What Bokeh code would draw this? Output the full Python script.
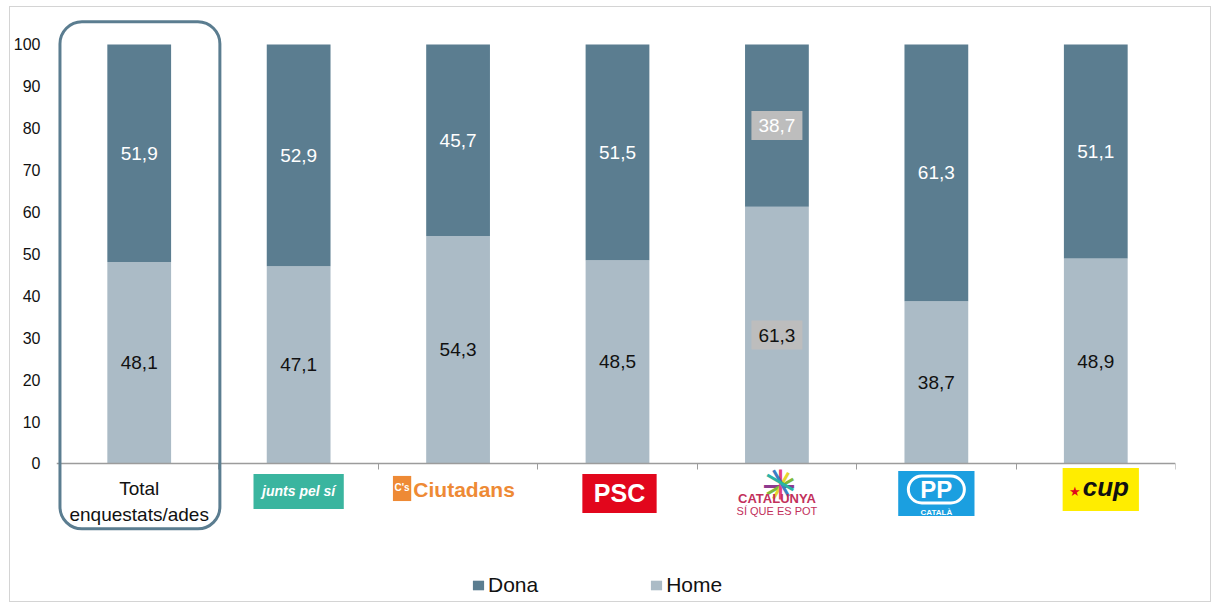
from bokeh.plotting import figure
from bokeh.models import (FixedTicker, BoxAnnotation, Label, Legend, LegendItem,
                          ColumnDataSource, Range1d)
from bokeh.embed import file_html
from bokeh.resources import INLINE
from bokeh.core.properties import value

# ---------------- data ----------------
categories = ["Total\nenquestats/ades", "Junts pel Sí", "Ciutadans", "PSC",
              "Catalunya Sí que es Pot", "PP", "CUP"]
home = [48.1, 47.1, 54.3, 48.5, 61.3, 38.7, 48.9]
dona = [51.9, 52.9, 45.7, 51.5, 38.7, 61.3, 51.1]
y_ticks = [0, 10, 20, 30, 40, 50, 60, 70, 80, 90, 100]
series = ["Dona", "Home"]

# ---------------- styles ----------------
DARK = "#5B7D90"
LIGHT = "#ABBBC6"
FONT = "Liberation Sans"
boxed = {4}  # category whose value labels sit on a grey box

n = len(categories)
xs = list(range(1, n + 1))
fmt = lambda v: f"{v:.1f}".replace(".", ",")

src = ColumnDataSource(dict(
    x=xs, home=home, dona=dona,
    top=[h + d for h, d in zip(home, dona)],
))

# frame extends over the logo / legend area; the x axis sits at y = 0
p = figure(width=1202, height=596, output_backend="svg", toolbar_location=None,
           x_range=Range1d(0.4812, n + 0.5), y_range=Range1d(-32.70, 108.11),
           min_border_left=45, min_border_right=37, min_border_top=3,
           min_border_bottom=3, outline_line_color=None,
           background_fill_color="white", border_fill_color="white",
           styles={"border": "1px solid #D4D4D4", "margin-left": "9px",
                   "margin-top": "6px"})
p.grid.visible = False

r_home = p.vbar(x="x", bottom=0, top="home", width=0.4, source=src,
                fill_color=LIGHT, line_color=None)
r_dona = p.vbar(x="x", bottom="home", top="top", width=0.4, source=src,
                fill_color=DARK, line_color=None)

# value labels
plain = [i for i in range(n) if i not in boxed]
bx = [i for i in range(n) if i in boxed]


def lab_src(idx):
    return ColumnDataSource(dict(
        x=[xs[i] for i in idx],
        yh=[home[i] / 2 for i in idx],
        yd=[home[i] + dona[i] / 2 for i in idx],
        th=[fmt(home[i]) for i in idx],
        td=[fmt(dona[i]) for i in idx],
    ))


s_plain = lab_src(plain)
s_box = lab_src(bx)
common = dict(text_font=value(FONT), text_font_size="19px",
              text_align="center", text_baseline="middle")
pad = dict(left=7, right=7, top=8, bottom=8)
p.text(x="x", y="yh", text="th", source=s_plain, text_color="#111111", **common)
p.text(x="x", y="yd", text="td", source=s_plain, text_color="white", **common)
p.text(x="x", y="yh", text="th", source=s_box, text_color="#111111",
       background_fill_color="#BDBDBD", padding=pad, **common)
p.text(x="x", y="yd", text="td", source=s_box, text_color="white",
       background_fill_color="#BDBDBD", padding=pad, **common)

# axes
ya = p.yaxis[0]
ya.ticker = FixedTicker(ticks=y_ticks)
ya.axis_line_color = None
ya.major_tick_line_color = None
ya.minor_tick_line_color = None
ya.major_label_text_font = FONT
ya.major_label_text_font_size = "16px"
ya.major_label_text_color = "#111111"
ya.major_label_standoff = 10

xa = p.xaxis[0]
xa.fixed_location = 0
xa.ticker = FixedTicker(ticks=xs, minor_ticks=[x - 0.5 for x in xs] + [n + 0.5])
xa.axis_line_color = "#9C9C9C"
xa.axis_line_width = 1.5
xa.major_tick_line_color = None
xa.minor_tick_line_color = "#9C9C9C"
xa.minor_tick_in = 0
xa.minor_tick_out = 6
xa.major_label_overrides = {x: (categories[0] if x == 1 else "") for x in xs}
xa.major_label_text_font = FONT
xa.major_label_text_font_size = "19px"
xa.major_label_text_color = "#111111"
xa.major_label_standoff = 9

# highlight box around the total
p.add_layout(BoxAnnotation(left=0.503, right=1.506, bottom=-15.6, top=105.4,
                           fill_alpha=0, line_color=DARK, line_alpha=1.0,
                           line_width=3, border_radius=22))


# ---------------- party logos (approximated with text) ----------------
def blank(xi, dx, dy, w, h, color, radius=0):
    p.add_layout(Label(x=xi, y=0, x_offset=dx, y_offset=-dy, text=" ",
                       text_font_size="1px", text_align="center",
                       text_baseline="middle", background_fill_color=color,
                       padding=dict(left=w // 2, right=w // 2, top=h // 2, bottom=h // 2),
                       border_radius=radius))


def txt(xi, dx, dy, t, size, color, style="normal", font=FONT, angle=0, **kw):
    p.add_layout(Label(x=xi, y=0, x_offset=dx, y_offset=-dy, text=t,
                       text_font=font, text_font_size=f"{size}px",
                       text_font_style=style, text_color=color,
                       text_align="center", text_baseline="middle",
                       angle=angle, angle_units="deg", **kw))


# Junts pel Sí
blank(2, 0, 28, 90, 34, "#3AB59F")
txt(2, 0, 28, "junts pel sí", 14, "white", "bold italic")

# Ciutadans
blank(3, -56, 25, 18, 24, "#EE8A35")
txt(3, -56, 24, "C's", 10, "white", "bold")
txt(3, 6, 26, "Ciutadans", 21, "#EE8A35", "bold")

# PSC
blank(4, 2, 30, 74, 39, "#E2061C")
txt(4, 2, 30, "PSC", 25, "white", "bold")

# Catalunya Sí que es Pot
star_cols = ["#8E3A8E", "#7DBA3C", "#E5D52F", "#E2427A", "#3A7FC4", "#2BB3A5"]
for k, c in enumerate(star_cols):
    txt(5, 2, 21, "\u2014", 30, c, "bold", angle=k * 30)
txt(5, 0, 35, "CATALUNYA", 13, "#C2305B", "bold")
txt(5, 0, 48, "SÍ QUE ES POT", 11, "#C2305B")

# PP
blank(6, 0, 30, 76, 45, "#1B9FE0")
txt(6, 0, 26, "PP", 24, "white", "bold", border_line_color="white",
    border_line_width=3, border_radius=16,
    padding=dict(left=12, right=12, top=0, bottom=0))
txt(6, 0, 49, "CATALÀ", 8, "white", "bold")

# CUP
blank(7, 5, 26, 76, 42, "#FFED00")
txt(7, -21, 28, "\u2605", 13, "#E2061C")
txt(7, 10, 24, "cup", 26, "#111111", "bold italic")

# ---------------- legend ----------------
legend = Legend(items=[LegendItem(label=series[0], renderers=[r_dona]),
                       LegendItem(label=series[1], renderers=[r_home])],
                orientation="horizontal", location=(415, 3),
                glyph_width=14, glyph_height=12, label_standoff=3, spacing=111,
                padding=0, margin=0, border_line_color=None,
                background_fill_alpha=0, label_text_font=FONT,
                label_text_font_size="21px", label_text_color="#111111")
p.add_layout(legend)

open("out.html", "w").write(file_html(p, INLINE))
